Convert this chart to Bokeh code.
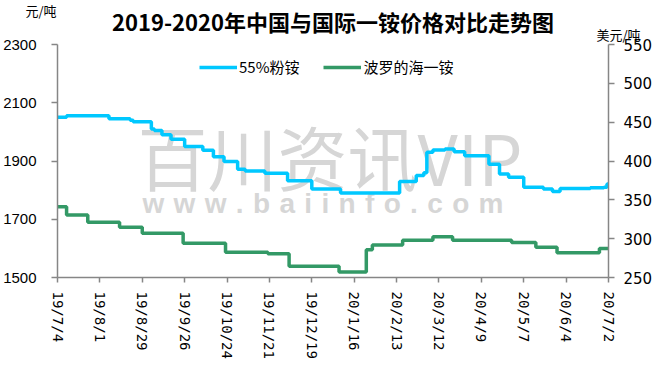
import pandas as pd
from bokeh.plotting import figure
from bokeh.models import (Range1d, LinearAxis, FixedTicker, CustomJSTickFormatter,
                          Label, Legend, LegendItem, Title)
from bokeh.embed import file_html
from bokeh.resources import INLINE

# ---------------- data ----------------
blue_name = "55%粉铵"
blue_dates = ["2019-07-04", "2019-07-10", "2019-08-07", "2019-08-21", "2019-08-23",
              "2019-09-04", "2019-09-06", "2019-09-11", "2019-09-17", "2019-09-26",
              "2019-10-08", "2019-10-15", "2019-10-22", "2019-10-31", "2019-11-05",
              "2019-11-18", "2019-12-03", "2019-12-19", "2020-01-07", "2020-02-15",
              "2020-02-26", "2020-03-02", "2020-03-04", "2020-03-08", "2020-03-16",
              "2020-03-22", "2020-03-29", "2020-04-14", "2020-04-21", "2020-04-27",
              "2020-05-07", "2020-05-20", "2020-05-26", "2020-05-31", "2020-06-20",
              "2020-06-29", "2020-07-01", "2020-07-02"]
blue_values = [2050, 2055, 2045, 2040, 2035,
               2010, 2005, 1990, 1975, 1950,
               1937, 1915, 1898, 1872, 1866,
               1858, 1832, 1804, 1790, 1830,
               1850, 1860, 1930, 1938, 1941,
               1932, 1918, 1889, 1855, 1844,
               1810, 1804, 1795, 1806, 1808,
               1810, 1821, 1821]

green_name = "波罗的海一铵"
green_dates = ["2019-07-04", "2019-07-10", "2019-07-24", "2019-08-14", "2019-08-29",
               "2019-09-25", "2019-10-23", "2019-11-20", "2019-12-04", "2020-01-06",
               "2020-01-24", "2020-01-28", "2020-02-17", "2020-03-08", "2020-03-21",
               "2020-04-29", "2020-05-15", "2020-05-29", "2020-06-26", "2020-07-02"]
green_values = [341, 330.5, 321, 314.7, 307,
                294, 282.6, 280.5, 264.5, 257,
                285.6, 292, 298, 302.5, 298,
                295, 289, 282, 287.5, 287.5]

x_tick_dates = ["2019-07-04", "2019-08-01", "2019-08-29", "2019-09-26", "2019-10-24",
                "2019-11-21", "2019-12-19", "2020-01-16", "2020-02-13", "2020-03-12",
                "2020-04-09", "2020-05-07", "2020-06-04", "2020-07-02"]
left_ticks = [1500, 1700, 1900, 2100, 2300]
right_ticks = [250, 300, 350, 400, 450, 500, 550]

title_text = "2019-2020年中国与国际一铵价格对比走势图"
left_unit = "元/吨"
right_unit = "美元/吨"
watermark_1 = "百川资讯VIP"
watermark_2 = "\u2004".join("www.baiinfo.com")

# ---------------- figure ----------------
AXIS_GREY = "#868686"
CJK = "Noto Sans CJK SC"

p = figure(width=655, height=361, output_backend="svg", toolbar_location=None,
           x_axis_type="datetime",
           x_range=Range1d(pd.Timestamp(x_tick_dates[0]), pd.Timestamp(x_tick_dates[-1])),
           y_range=Range1d(left_ticks[0], left_ticks[-1]),
           min_border_left=52, min_border_right=44, min_border_top=44, min_border_bottom=83)
p.extra_y_ranges = {"usd": Range1d(right_ticks[0], right_ticks[-1])}
p.outline_line_color = None
p.xgrid.grid_line_color = None
p.ygrid.grid_line_color = None
p.background_fill_color = "white"
p.border_fill_color = "white"

bx = pd.to_datetime(blue_dates)
gx = pd.to_datetime(green_dates)
r_blue = p.step(bx, blue_values, mode="after", line_color="#00C8FF", line_width=3.5)
r_green = p.step(gx, green_values, mode="after", line_color="#339966", line_width=3.5,
                 y_range_name="usd")

right_axis = LinearAxis(y_range_name="usd")
p.add_layout(right_axis, "right")

def style_axis(ax, size):
    ax.axis_line_color = AXIS_GREY
    ax.axis_line_width = 1.5
    ax.major_tick_line_color = AXIS_GREY
    ax.major_tick_line_width = 1.5
    ax.major_tick_out = 6
    ax.major_tick_in = 0
    ax.minor_tick_line_color = None
    ax.major_label_text_color = "black"
    ax.major_label_text_font_size = size

style_axis(p.yaxis[0], "15px")
p.yaxis[0].ticker = FixedTicker(ticks=left_ticks)
p.yaxis[0].major_label_text_font = "Liberation Sans"
p.yaxis[0].major_label_standoff = 15

style_axis(right_axis, "15px")
right_axis.ticker = FixedTicker(ticks=right_ticks)
right_axis.major_label_text_font = "DejaVu Sans"
right_axis.major_label_standoff = 9

xa = p.xaxis[0]
style_axis(xa, "14px")
xa.major_tick_out = 5
xa.ticker = FixedTicker(ticks=[pd.Timestamp(d).value / 1e6 for d in x_tick_dates])
xa.formatter = CustomJSTickFormatter(code="""
const d = new Date(tick);
return (d.getUTCFullYear() % 100) + "/" + (d.getUTCMonth() + 1) + "/" + d.getUTCDate();
""")
xa.major_label_orientation = "vertical"
xa.major_label_text_font = "DejaVu Sans Mono"
xa.major_label_standoff = 9

# legend
legend = Legend(items=[LegendItem(label=blue_name, renderers=[r_blue]),
                       LegendItem(label=green_name, renderers=[r_green])],
                location=(142, 200), orientation="horizontal",
                background_fill_alpha=0, border_line_color=None,
                padding=0, margin=0, spacing=24, label_standoff=2,
                glyph_width=38, glyph_height=16,
                label_text_font=CJK, label_text_font_size="15px", label_text_color="black")
p.add_layout(legend)

# watermark
p.add_layout(Label(x=80, y=122, x_units="screen", y_units="screen", text=watermark_1,
                   text_font=CJK, text_font_size="70px", text_color="#d6d6d6",
                   text_baseline="middle", level="underlay"))
p.add_layout(Label(x=85, y=74, x_units="screen", y_units="screen", text=watermark_2,
                   text_font="Liberation Sans", text_font_style="bold", text_font_size="28px",
                   text_color="#d6d6d6", text_baseline="middle", level="underlay"))

# titles (stacked above the frame, nearest first)
p.add_layout(Title(text=right_unit, align="right", offset=-32, standoff=2,
                   text_font=CJK, text_font_size="13px", text_font_style="normal",
                   text_color="black"), "above")
p.add_layout(Title(text=title_text, align="center", offset=0, standoff=-30,
                   text_font=CJK, text_font_size="22px", text_font_style="bold",
                   text_color="black"), "above")
p.add_layout(Title(text=left_unit, align="left", offset=-32, standoff=-5,
                   text_font=CJK, text_font_size="13px", text_font_style="normal",
                   text_color="black"), "above")

open("out.html", "w").write(file_html(p, INLINE))
